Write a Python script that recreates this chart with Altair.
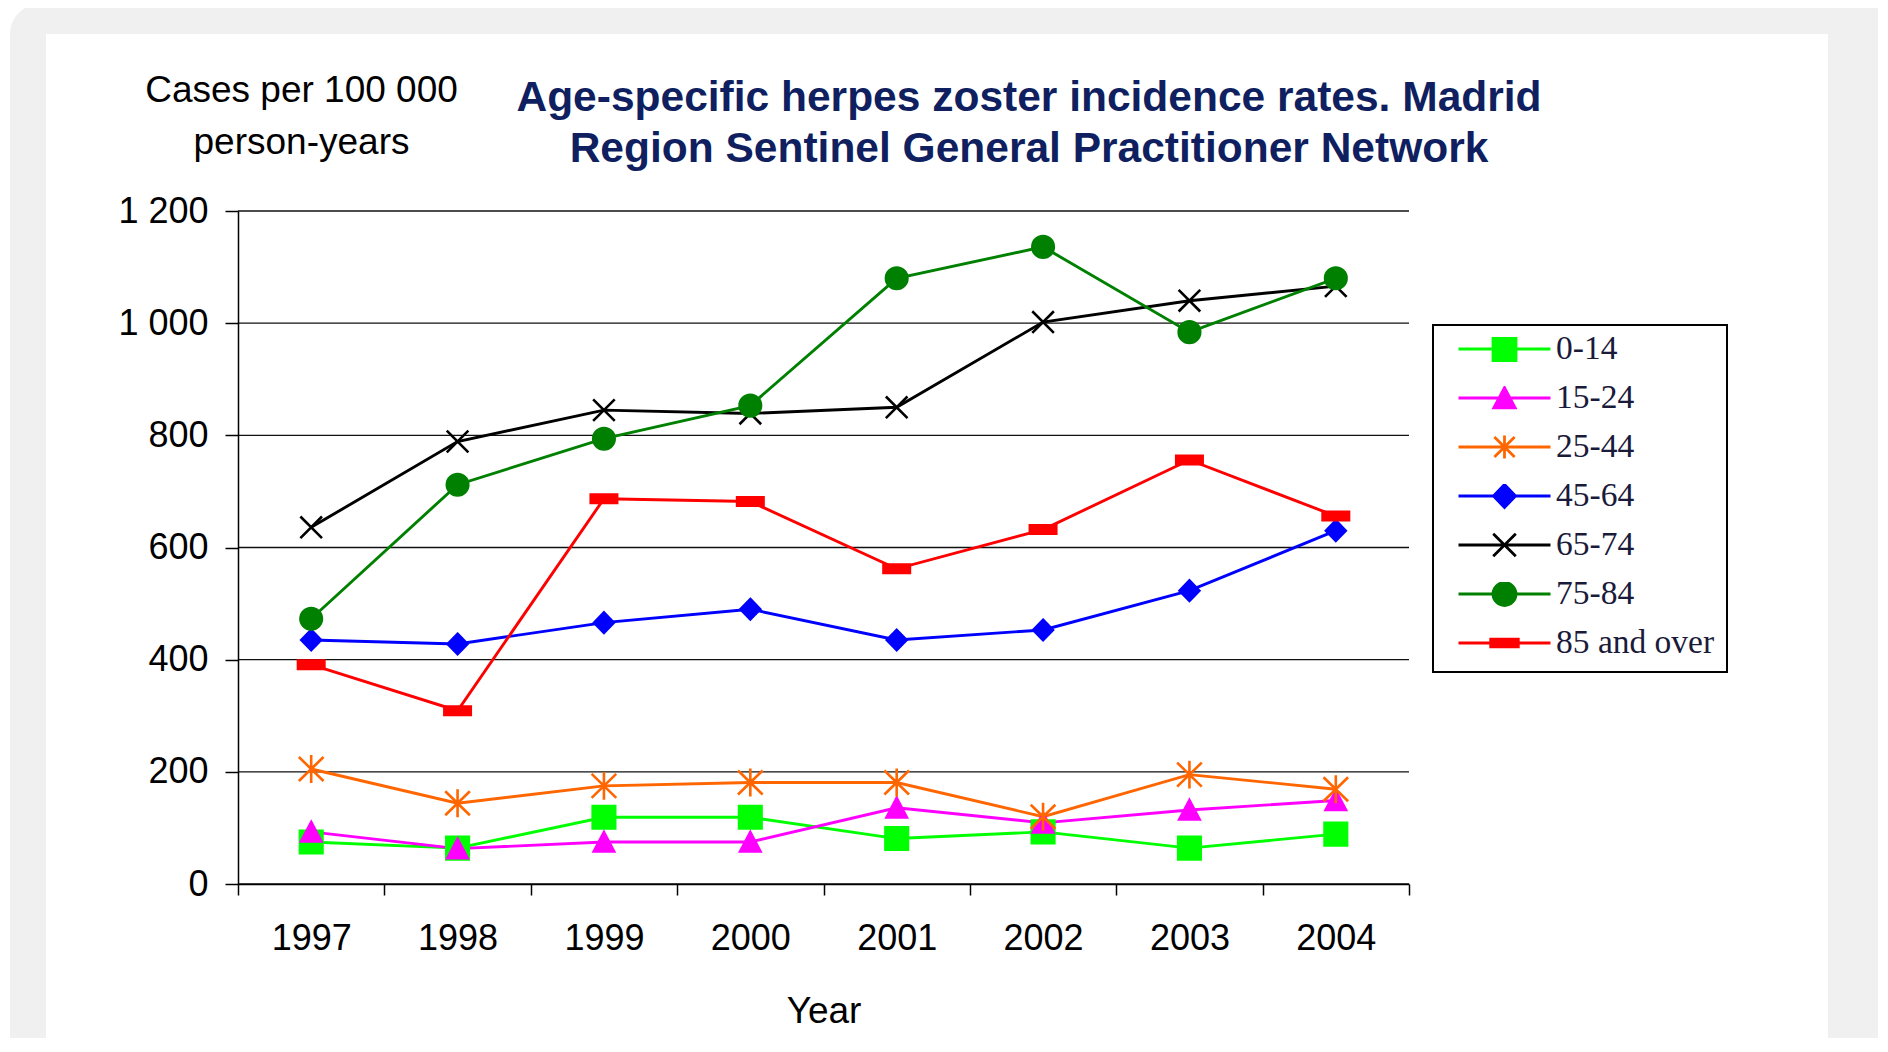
import altair as alt
import pandas as pd

# ---------------- data ----------------
years = ["1997", "1998", "1999", "2000", "2001", "2002", "2003", "2004"]
groups = ["0-14", "15-24", "25-44", "45-64", "65-74", "75-84", "85 and over"]

rates_0_14 = [75, 64, 119, 119, 81, 93, 64, 89]
rates_15_24 = [93, 63, 75, 75, 136, 109, 132, 149]
rates_25_44 = [205, 144, 175, 181, 181, 120, 195, 169]
rates_45_64 = [435, 428, 466, 490, 435, 453, 523, 630]
rates_65_74 = [636, 789, 845, 839, 850, 1002, 1040, 1066]
rates_75_84 = [473, 712, 794, 853, 1080, 1136, 984, 1080]
rates_85_over = [391, 309, 687, 682, 562, 632, 756, 656]

series = [rates_0_14, rates_15_24, rates_25_44, rates_45_64,
          rates_65_74, rates_75_84, rates_85_over]

y_ticks = [0, 200, 400, 600, 800, 1000, 1200]
title_lines = ["Age-specific herpes zoster incidence rates. Madrid",
               "Region Sentinel General Practitioner Network"]
y_title_lines = ["Cases per 100 000", "person-years"]
x_title = "Year"

# ---------------- styles ----------------
colors = ["#00ff00", "#ff00ff", "#ff6600", "#0000ff", "#000000", "#008000", "#ff0000"]

# data markers (size 900 -> 15 px per unit)
marker_shapes = [
    "M-0.75,-0.75H0.75V0.75H-0.75Z",
    "M0,-0.66L0.68,0.64H-0.68Z",
    "M0,-0.93V0.93M-0.82,-0.8L0.82,0.8M-0.82,0.8L0.82,-0.8",
    "M0,-0.68L0.66,0L0,0.68L-0.66,0Z",
    "M-0.72,-0.72L0.72,0.72M-0.72,0.72L0.72,-0.72",
    "circle",
    "M-0.88,-0.28H0.88V0.28H-0.88Z",
]
marker_sizes = [900, 900, 900, 900, 900, 462, 900]

# legend symbols: line segment plus marker (size 8464 -> 46 px per unit)
legend_shapes = [
    "M-1,0H1M-0.25,-0.25H0.25V0.25H-0.25Z",
    "M-1,0H1M0,-0.225L0.232,0.215H-0.232Z",
    "M-1,0H1M0,-0.25V0.25M-0.22,-0.215L0.22,0.215M-0.22,0.215L0.22,-0.215",
    "M-1,0H1M0,-0.25L0.24,0L0,0.25L-0.24,0Z",
    "M-1,0H1M-0.245,-0.245L0.245,0.245M-0.245,0.245L0.245,-0.245",
    "M-1,0H1M-0.25,0A0.25,0.25 0 1,0 0.25,0A0.25,0.25 0 1,0 -0.25,0Z",
    "M-1,0H1M-0.3,-0.085H0.3V0.085H-0.3Z",
]

rows = []
for g, vals in zip(groups, series):
    for yr, v in zip(years, vals):
        rows.append({"Year": yr, "Age": g, "Rate": v})
df = pd.DataFrame(rows)
grid_df = pd.DataFrame({"Rate": y_ticks})
one = alt.Data(values=[{}])

FONT = "Liberation Sans"
PLOT_W, PLOT_H = 1171, 673

x_scale = alt.Scale(type="band", domain=years, paddingInner=0, paddingOuter=0)
y_scale = alt.Scale(domain=[0, 1200], nice=False, zero=True)
color_scale = alt.Scale(domain=groups, range=colors)

x_axis = alt.Axis(
    title=x_title, titleFont=FONT, titleFontSize=37, titleFontWeight="normal",
    titleColor="black", titleAlign="center", titleBaseline="alphabetic",
    titleX=585.5, titleY=138,
    labelFont=FONT, labelFontSize=36, labelColor="black", labelAngle=0,
    labelBaseline="alphabetic", labelPadding=54,
    tickBand="extent", tickSize=11, tickWidth=1.5, tickColor="black",
    domainColor="black", domainWidth=1.5, grid=False, zindex=1,
)
y_axis = alt.Axis(
    title=y_title_lines, titleFont=FONT, titleFontSize=37, titleFontWeight="normal",
    titleColor="black", titleAngle=0, titleAlign="center", titleBaseline="alphabetic",
    titleX=63, titleY=-110, titleLineHeight=52,
    values=y_ticks, labelExpr="replace(format(datum.value, ','), ',', ' ')",
    labelFont=FONT, labelFontSize=36, labelColor="black", labelPadding=17,
    tickSize=13, tickWidth=1.5, tickColor="black",
    domainColor="black", domainWidth=1.5, grid=False, zindex=1,
)

X = alt.X("Year:O", scale=x_scale, axis=x_axis)
Y = alt.Y("Rate:Q", scale=y_scale, axis=y_axis)

legend = alt.Legend(
    title=None, orient="none", legendX=1195, legendY=114, direction="vertical",
    strokeColor="#000000", fillColor="#ffffff", padding=12,
    symbolSize=8464, symbolStrokeWidth=2.8, symbolOffset=12, symbolOpacity=1,
    labelFont="Liberation Serif", labelFontSize=33.5, labelColor="#1a1a3a",
    labelOffset=4, labelLimit=400, rowPadding=15, clipHeight=24, zindex=1,
)

# background frame (grey page with white card)
bg_grey = alt.Chart(one).mark_rect(color="#f0f0f0", cornerRadius=30).encode(
    x=alt.value(-228), x2=alt.value(1700), y=alt.value(-207), y2=alt.value(900))
bg_card = alt.Chart(one).mark_rect(color="#ffffff").encode(
    x=alt.value(-192), x2=alt.value(1590), y=alt.value(-177), y2=alt.value(900))

title_layer = alt.Chart(one).mark_text(
    font=FONT, fontSize=42.5, fontWeight="bold", color="#0f1f5f",
    align="center", baseline="alphabetic", lineHeight=51,
).encode(x=alt.value(791), y=alt.value(-100), text=alt.value(title_lines))

grid = alt.Chart(grid_df).mark_rule(color="#111111", strokeWidth=1.4).encode(y=Y)

lines = alt.Chart(df).mark_line(strokeWidth=2.9).encode(
    x=X, y=Y, color=alt.Color("Age:N", scale=color_scale, legend=legend))

point_layers = []
for g, c, shp, sz in zip(groups, colors, marker_shapes, marker_sizes):
    point_layers.append(
        alt.Chart(df).transform_filter(alt.datum.Age == g).mark_point(
            shape=shp, size=sz, filled=True, fill=c, stroke=c,
            strokeWidth=2.6, opacity=1,
        ).encode(x=X, y=Y)
    )

legend_layer = alt.Chart(df).mark_point(filled=True, opacity=0, strokeWidth=2.8).encode(
    x=X, y=Y,
    color=alt.Color("Age:N", scale=color_scale, legend=legend),
    stroke=alt.Stroke("Age:N", scale=alt.Scale(domain=groups, range=colors), legend=legend),
    shape=alt.Shape("Age:N", scale=alt.Scale(domain=groups, range=legend_shapes), legend=legend),
)

chart = alt.layer(
    bg_grey, bg_card, title_layer, grid, lines, *point_layers, legend_layer
).properties(
    width=PLOT_W, height=PLOT_H,
    autosize=alt.AutoSizeParams(type="none"),
    padding={"left": 230, "top": 203, "right": 469, "bottom": 154},
    background="#ffffff",
).configure_view(strokeWidth=0).configure_legend(strokeWidth=2)

chart.save("out.html", embed_options={"renderer": "svg", "actions": False})
